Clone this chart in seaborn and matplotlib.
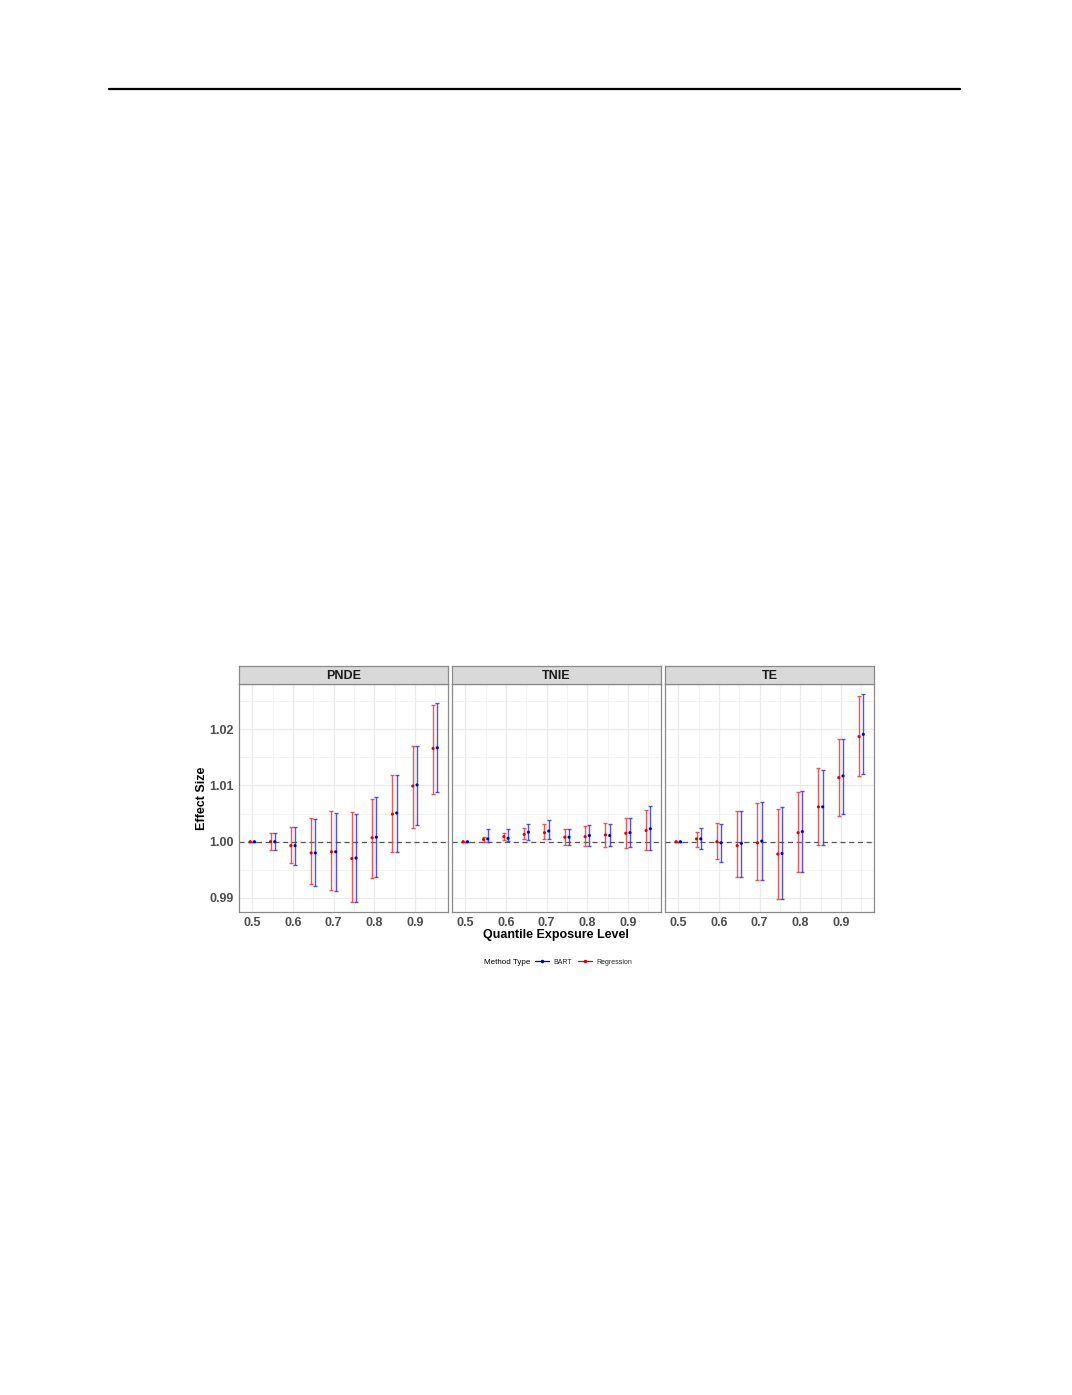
import numpy as np
import pandas as pd
import matplotlib
matplotlib.use("Agg")
import matplotlib.pyplot as plt
from matplotlib.lines import Line2D
from matplotlib.ticker import FixedLocator
import seaborn as sns

# Data
quantiles = [0.5, 0.55, 0.6, 0.65, 0.7, 0.75, 0.8, 0.85, 0.9, 0.95]
effects = ["PNDE", "TNIE", "TE"]
methods = ["BART", "Regression"]

pnde_reg_est = [1.0000, 1.0000, 0.9993, 0.9980, 0.9982, 0.9970, 1.0007, 1.0049, 1.0099, 1.0166]
pnde_reg_lo = [1.0000, 0.9986, 0.9962, 0.9924, 0.9914, 0.9893, 0.9936, 0.9981, 1.0025, 1.0084]
pnde_reg_hi = [1.0000, 1.0015, 1.0026, 1.0043, 1.0054, 1.0053, 1.0076, 1.0118, 1.0171, 1.0244]
pnde_bart_est = [1.0000, 1.0000, 0.9993, 0.9980, 0.9982, 0.9971, 1.0008, 1.0051, 1.0101, 1.0167]
pnde_bart_lo = [1.0000, 0.9985, 0.9959, 0.9921, 0.9912, 0.9892, 0.9937, 0.9982, 1.0030, 1.0089]
pnde_bart_hi = [1.0000, 1.0015, 1.0026, 1.0040, 1.0051, 1.0050, 1.0079, 1.0118, 1.0171, 1.0246]

tnie_reg_est = [1.0000, 1.0004, 1.0009, 1.0013, 1.0016, 1.0008, 1.0009, 1.0012, 1.0015, 1.0020]
tnie_reg_lo = [1.0000, 0.9999, 1.0003, 1.0004, 1.0005, 0.9994, 0.9992, 0.9991, 0.9989, 0.9985]
tnie_reg_hi = [1.0000, 1.0008, 1.0015, 1.0024, 1.0031, 1.0022, 1.0028, 1.0033, 1.0042, 1.0056]
tnie_bart_est = [1.0000, 1.0005, 1.0006, 1.0017, 1.0019, 1.0008, 1.0011, 1.0011, 1.0016, 1.0023]
tnie_bart_lo = [1.0000, 1.0000, 1.0002, 1.0003, 1.0004, 0.9995, 0.9993, 0.9992, 0.9990, 0.9985]
tnie_bart_hi = [1.0000, 1.0022, 1.0022, 1.0032, 1.0038, 1.0023, 1.0029, 1.0031, 1.0043, 1.0063]

te_reg_est = [1.0000, 1.0005, 1.0000, 0.9993, 0.9998, 0.9978, 1.0016, 1.0062, 1.0114, 1.0187]
te_reg_lo = [1.0000, 0.9991, 0.9969, 0.9938, 0.9932, 0.9898, 0.9946, 0.9994, 1.0046, 1.0117]
te_reg_hi = [1.0000, 1.0018, 1.0034, 1.0054, 1.0068, 1.0059, 1.0089, 1.0131, 1.0183, 1.0259]
te_bart_est = [1.0000, 1.0005, 0.9998, 0.9997, 1.0001, 0.9979, 1.0018, 1.0062, 1.0117, 1.0191]
te_bart_lo = [1.0000, 0.9987, 0.9963, 0.9938, 0.9931, 0.9898, 0.9946, 0.9995, 1.0049, 1.0120]
te_bart_hi = [1.0000, 1.0025, 1.0032, 1.0055, 1.0070, 1.0061, 1.0091, 1.0128, 1.0183, 1.0262]

x_ticks = [0.5, 0.6, 0.7, 0.8, 0.9]
x_tick_labels = ["0.5", "0.6", "0.7", "0.8", "0.9"]
y_ticks = [0.99, 1.00, 1.01, 1.02]

# build one long table
rows = []
series = {
    ("PNDE", "Regression"): (pnde_reg_est, pnde_reg_lo, pnde_reg_hi),
    ("PNDE", "BART"): (pnde_bart_est, pnde_bart_lo, pnde_bart_hi),
    ("TNIE", "Regression"): (tnie_reg_est, tnie_reg_lo, tnie_reg_hi),
    ("TNIE", "BART"): (tnie_bart_est, tnie_bart_lo, tnie_bart_hi),
    ("TE", "Regression"): (te_reg_est, te_reg_lo, te_reg_hi),
    ("TE", "BART"): (te_bart_est, te_bart_lo, te_bart_hi),
}
for (eff, meth), (est, lo, hi) in series.items():
    for q, e, l, h in zip(quantiles, est, lo, hi):
        rows.append({"effect": eff, "method": meth, "quantile": q, "est": e, "lo": l, "hi": h})
df = pd.DataFrame(rows)

# position dodge like ggplot
dodge = {"Regression": -0.0052, "BART": 0.0052}
df["xpos"] = df["quantile"] + df["method"].map(dodge)

palette = {"BART": "#0000CC", "Regression": "#E00000"}
bar_colors = {"BART": "#3535E8", "Regression": "#EE3B3B"}

sns.set_theme(style="white")
plt.rcParams["font.family"] = ["Liberation Sans", "DejaVu Sans"]

W, H = 1072, 1395
fig = plt.figure(figsize=(W / 100, H / 100), dpi=100)
fig.patch.set_facecolor("white")

# rule at top of page
fig.add_artist(Line2D([109 / W, 960 / W], [1 - 88.5 / H, 1 - 88.5 / H],
                      color="black", linewidth=1.6))

panel_left = [239.3, 452.3, 665.3]
panel_w = 208.5
panel_top, panel_bot = 684.3, 912.3
strip_top = 665.7
border = "#8A8A8A"
fs = 9

for i, eff in enumerate(effects):
    ax = fig.add_axes([panel_left[i] / W, 1 - panel_bot / H, panel_w / W, (panel_bot - panel_top) / H])
    sub = df[df["effect"] == eff]

    for meth in ["Regression", "BART"]:
        s = sub[sub["method"] == meth]
        ax.errorbar(s["xpos"], s["est"], yerr=[s["est"] - s["lo"], s["hi"] - s["est"]],
                    fmt="none", ecolor=bar_colors[meth], elinewidth=1.0, capsize=1.6,
                    capthick=1.0, alpha=0.85, zorder=3)
    sns.scatterplot(data=sub, x="xpos", y="est", hue="method", palette=palette,
                    s=5, marker="o", edgecolor="none", legend=False, ax=ax, zorder=4)

    ax.axhline(1.0, color="#555555", linewidth=0.9, linestyle=(0, (4, 3)), zorder=2)

    ax.set_xlim(0.468, 0.981)
    ax.set_ylim(0.98744, 1.028)
    ax.xaxis.set_major_locator(FixedLocator(x_ticks))
    ax.xaxis.set_minor_locator(FixedLocator([0.55, 0.65, 0.75, 0.85, 0.95]))
    ax.yaxis.set_major_locator(FixedLocator(y_ticks))
    ax.yaxis.set_minor_locator(FixedLocator([0.995, 1.005, 1.015, 1.025]))
    ax.grid(which="major", color="#EBEBEB", linewidth=0.9)
    ax.grid(which="minor", color="#F2F2F2", linewidth=0.6)
    ax.set_axisbelow(True)

    ax.set_xticklabels(x_tick_labels)
    ax.tick_params(axis="x", which="major", length=2, width=0.6, color="#333333", pad=1.5,
                   labelsize=fs, labelcolor="#4D4D4D")
    ax.tick_params(axis="y", which="major", length=2, width=0.6, color="#333333", pad=2.0,
                   labelsize=fs, labelcolor="#4D4D4D")
    ax.tick_params(which="minor", length=0)
    for lab in ax.get_xticklabels() + ax.get_yticklabels():
        lab.set_fontweight("bold")
    if i > 0:
        ax.tick_params(axis="y", which="major", length=0, labelleft=False)
    ax.set_xlabel("")
    ax.set_ylabel("")
    for sp in ax.spines.values():
        sp.set_color(border)
        sp.set_linewidth(0.9)
        sp.set_visible(True)

    # facet strip
    sax = fig.add_axes([panel_left[i] / W, 1 - panel_top / H, panel_w / W, (panel_top - strip_top) / H])
    sax.set_facecolor("#D9D9D9")
    sax.set_xticks([])
    sax.set_yticks([])
    for sp in sax.spines.values():
        sp.set_color(border)
        sp.set_linewidth(0.9)
    sax.text(0.5, 0.45, eff, ha="center", va="center", fontsize=fs, fontweight="bold",
             color="#1A1A1A", transform=sax.transAxes)

fig.text(555.8 / W, 1 - 935 / H, "Quantile Exposure Level", ha="center", va="center",
         fontsize=fs, fontweight="bold", color="black")
fig.text(202.3 / W, 1 - 798 / H, "Effect Size", ha="center", va="center", rotation=90,
         fontsize=fs, fontweight="bold", color="black")

# legend at the bottom
fig.text(484.5 / W, 1 - 962 / H, "Method Type", ha="left", va="center", fontsize=5.8, color="black")
handles = [Line2D([0], [0], color=palette[m], linewidth=0.9, marker="o", markersize=1.5) for m in methods]
fig.legend(handles, methods, loc="center left", bbox_to_anchor=(535 / W, 1 - 962 / H),
           ncol=2, frameon=False, fontsize=5, handlelength=2.0, handletextpad=0.7,
           columnspacing=0.8, borderpad=0, borderaxespad=0)

fig.savefig("out.png", dpi=100)
